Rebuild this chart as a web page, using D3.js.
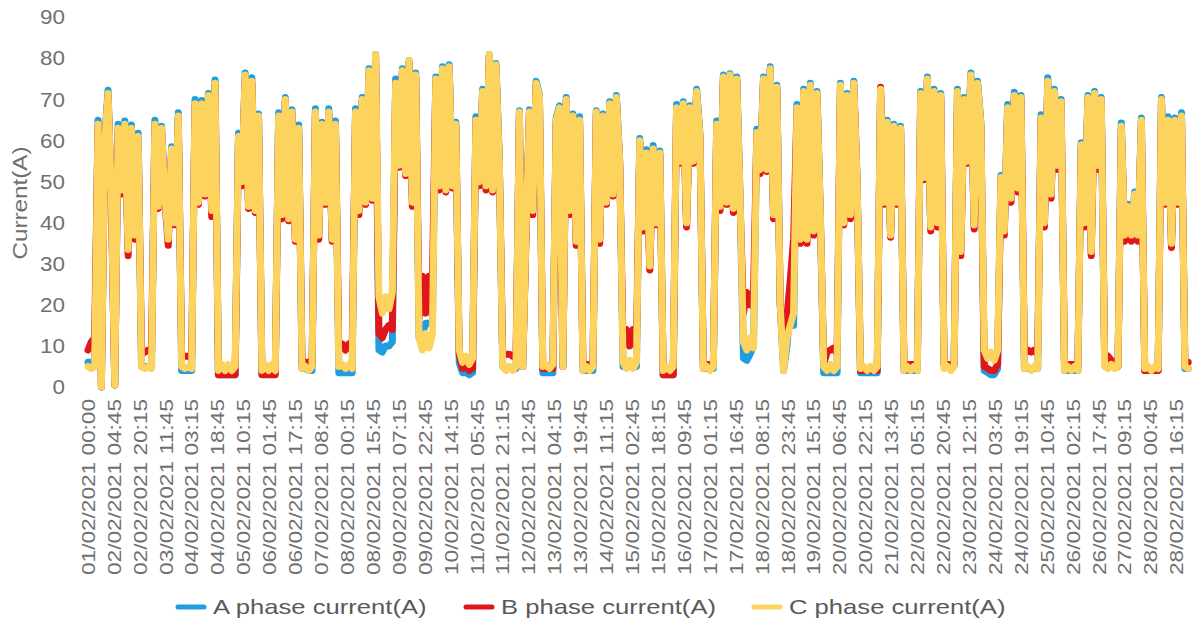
<!DOCTYPE html>
<html>
<head>
<meta charset="utf-8">
<script src="https://cdn.jsdelivr.net/npm/d3@7"></script>
<style>
  body { margin: 0; background: #fff; }
  svg { display: block; font-family: "Liberation Sans", Arial, sans-serif; }
</style>
</head>
<body>
<svg width="1203" height="625"></svg>
<script>
// 15-minute samples, one reading kept every 8 samples
var step = 8;
var labelEvery = 62;

var tickLabels = [
  "01/02/2021 00:00", "02/02/2021 04:45", "02/02/2021 20:15", "03/02/2021 11:45", "04/02/2021 03:15",
  "04/02/2021 18:45", "05/02/2021 10:15", "06/02/2021 01:45", "06/02/2021 17:15", "07/02/2021 08:45",
  "08/02/2021 00:15", "08/02/2021 15:45", "09/02/2021 07:15", "09/02/2021 22:45", "10/02/2021 14:15",
  "11/02/2021 05:45", "11/02/2021 21:15", "12/02/2021 12:45", "13/02/2021 04:15", "13/02/2021 19:45",
  "14/02/2021 11:15", "15/02/2021 02:45", "15/02/2021 18:15", "16/02/2021 09:45", "17/02/2021 01:15",
  "17/02/2021 16:45", "18/02/2021 08:15", "18/02/2021 23:45", "19/02/2021 15:15", "20/02/2021 06:45",
  "20/02/2021 22:15", "21/02/2021 13:45", "22/02/2021 05:15", "22/02/2021 20:45", "23/02/2021 12:15",
  "24/02/2021 03:45", "24/02/2021 19:15", "25/02/2021 10:45", "26/02/2021 02:15", "26/02/2021 17:45",
  "27/02/2021 09:15", "28/02/2021 00:45", "28/02/2021 16:15"
];

var yTicks = [0, 10, 20, 30, 40, 50, 60, 70, 80, 90];

var seriesNames = ["A phase current(A)", "B phase current(A)", "C phase current(A)"];
var seriesColors = ["#1f9de0", "#e0161c", "#fcd35c"];

var phaseA = [
  6, 6, 6.5, 65, 0, 60.5, 72.3, 46, 0.5, 64,
  48.5, 64.8, 34, 63.8, 37.5, 61.8, 5, 5, 5, 5,
  65, 44, 63.5, 46, 36, 58.5, 40, 66.8, 4, 4,
  4, 4, 70, 45, 69.8, 47, 71.5, 43, 74.8, 3,
  3, 3, 3, 3, 3, 61.8, 50, 76.5, 44, 75.3,
  43, 66.5, 3.5, 3.5, 3.5, 3.5, 3.5, 66.8, 42, 70.5,
  41, 67.5, 36, 63.8, 4.5, 4.5, 4, 4, 67.8, 37,
  64.5, 45, 67.8, 36, 64.8, 3.5, 3.5, 3.5, 3.5, 3.5,
  67.8, 43, 70.5, 45, 77.5, 46, 81, 9, 8.5, 10,
  10, 11, 75, 54, 77.5, 52, 79.5, 45, 76.5, 12,
  13, 15.5, 15.5, 15.5, 75.5, 49, 78, 48, 78.5, 49,
  64.5, 6, 3.5, 3.5, 3, 3.5, 65.8, 50, 72.5, 49,
  81, 48, 78.8, 55, 5, 4.5, 4.5, 4.5, 4.5, 67.3,
  5, 38, 67.5, 43, 74.5, 71.3, 3.5, 3.5, 3.5, 3.5,
  65.5, 68.5, 5, 70.5, 43, 66.5, 35.5, 65.8, 4, 4,
  4, 4, 67.3, 36, 66.5, 45, 69.5, 47, 71, 55,
  5, 5, 5, 5, 5, 60.5, 39, 57.8, 29.5, 58.8,
  40, 57.5, 3, 3, 3, 3, 68.8, 55, 69.5, 40,
  68.5, 55, 72.5, 61.5, 4.5, 4.5, 4.5, 4.5, 64.8, 44,
  76, 45, 76.3, 43.5, 75.5, 46, 7, 6.5, 8, 10,
  62.8, 53, 75.5, 53, 78, 42, 73.5, 20, 4, 10,
  20, 15, 68.8, 36, 72.5, 36, 74, 38, 72, 42,
  3.5, 3.5, 3.5, 3.5, 3.5, 74, 40, 71.5, 42, 74.5,
  50, 3.5, 3.5, 3.5, 3.5, 3.5, 3.5, 72, 45, 65,
  37, 64, 45, 63.5, 4, 4, 4, 4, 4, 72,
  51, 75.5, 39, 72.5, 40, 71.5, 5.5, 5.5, 5.5, 5.5,
  72.5, 33, 70.5, 55, 76.5, 39.5, 74.5, 64.5, 4, 3.5,
  3, 3, 4.5, 51.5, 38, 68.8, 46, 71.8, 48.5, 71,
  4.5, 4.5, 4.5, 4.5, 4.5, 66.3, 40, 75.3, 47, 72.5,
  54, 70, 4, 4, 4, 4, 4, 59.5, 40, 71,
  33, 72, 54, 70.5, 7.5, 7, 6, 5.5, 5, 64.3,
  37, 44.5, 37, 47.5, 37, 65.5, 4, 4, 4, 4,
  4, 70.5, 45, 65.8, 35, 65.5, 45, 66.8, 4.5, 4.5
];

var phaseB = [
  9, 11, 12, 63.5, 0, 60, 71, 45, 0.5, 62.5,
  47, 63.5, 32, 62.5, 36, 60.5, 8, 8.5, 9, 8.5,
  63.5, 43.5, 62.5, 45.5, 34.5, 57.5, 39.5, 65.5, 7.5, 7.5,
  7.5, 7, 68.5, 44.5, 68.5, 46.5, 70.5, 41.5, 73.5, 3,
  3, 3, 3, 3, 3, 60.5, 49, 75.5, 43.5, 74,
  42.5, 65.5, 3, 3, 3, 3, 3, 65.5, 41, 69.5,
  40.5, 66.5, 35.5, 62.5, 6, 6, 6, 5.5, 66.5, 36,
  63.5, 44.5, 66.5, 35.5, 63.5, 9, 10.5, 9, 10.5, 9.5,
  66.5, 42, 69.5, 44.5, 76.5, 45.5, 80.5, 13, 12, 14,
  15, 14, 73.5, 53.5, 76.5, 51.5, 79, 44, 75.5, 17,
  27, 18, 27, 26, 74.5, 48, 77, 47.5, 77.5, 48.5,
  63.5, 8, 4.5, 5, 4, 4.5, 64.5, 49, 71.5, 48,
  80.5, 47.5, 78, 54.5, 7.5, 8, 8, 7.5, 7.5, 66.5,
  5, 37, 66.5, 42, 73.5, 70.5, 4.5, 4.5, 4.5, 4.5,
  64.5, 67.5, 5, 69.5, 42, 65.5, 34.5, 64.5, 5.5, 5.5,
  5.5, 5.5, 66.5, 35, 65.5, 44.5, 68.5, 46.5, 70, 54.5,
  10, 14, 10, 14, 10, 59.5, 38, 56.5, 28.5, 57.5,
  39.5, 56.5, 3, 3, 3, 3, 67.5, 54.5, 68.5, 39,
  67.5, 54.5, 71.5, 60.5, 5.5, 5.5, 5.5, 5.5, 63.5, 43,
  75, 44.5, 75.5, 42.5, 74.5, 44.5, 18, 23, 20, 22,
  61.5, 52, 74.5, 52.5, 77, 41, 72.5, 20, 7, 17,
  26, 36, 67.5, 35, 71.5, 35, 73, 37, 71, 41,
  5.5, 8.5, 9, 9.5, 8, 73, 39.5, 70.5, 41, 73.5,
  49.5, 4, 4, 4, 4, 4, 4, 73, 44.5, 64,
  36.5, 63, 44.5, 62.5, 5.5, 5.5, 5.5, 5.5, 5.5, 71,
  50.5, 74.5, 38, 71.5, 39, 70.5, 5.5, 5.5, 5.5, 5.5,
  71.5, 32, 69.5, 54.5, 75.5, 38.5, 73.5, 63.5, 5, 4.5,
  4, 4, 5.5, 50.5, 37, 67.5, 45, 70.5, 47.5, 70,
  8, 9, 8.5, 9, 8, 65, 39, 74, 46, 71.5,
  53, 69, 5.5, 5.5, 5.5, 5.5, 5, 58.5, 39, 70,
  32, 71, 53, 69.5, 7, 7.5, 6.5, 6, 5, 63,
  35.5, 43.5, 35.5, 46.5, 35.5, 64.5, 4, 4, 4, 4,
  4, 69.5, 44.5, 64.5, 34, 64.5, 44.5, 65.5, 6, 6
];

var phaseC = [
  5, 4.5, 5, 64, 0, 60, 71.5, 46, 0.5, 63,
  48, 64, 33.5, 63, 37, 61, 5, 4.5, 5, 4.5,
  64, 44, 63, 46, 36, 58, 40, 66, 5, 4.5,
  5, 4.5, 69, 45, 69, 47, 71, 43, 74, 4,
  5.5, 4, 5.5, 4, 5, 61, 50, 76, 44, 74.5,
  43, 66, 4, 5.5, 4, 5.5, 4, 66, 42, 70,
  41, 67, 36, 63, 4.5, 5, 4, 5, 67, 37,
  64, 45, 67, 36, 64, 5, 5.5, 4.5, 5.5, 4.5,
  67, 43, 70, 45, 77, 46, 81, 22, 18, 22,
  19, 23, 74, 54, 77, 52, 79.5, 45, 76, 12,
  9, 13, 9.5, 13, 75, 49, 77.5, 48, 78, 49,
  64, 9, 6, 7.5, 5.5, 7, 65, 50, 72, 49,
  81, 48, 78.5, 55, 5, 4, 5, 4, 5, 67,
  5, 38, 67, 43, 74, 71, 5, 5.5, 4.5, 5.5,
  65, 68, 5, 70, 43, 66, 35.5, 65, 4, 5,
  4, 5, 67, 36, 66, 45, 69, 47, 70.5, 55,
  6, 4.5, 6.5, 4.5, 6, 60, 39, 57, 29.5, 58,
  40, 57, 4, 5, 4, 5, 68, 55, 69, 40,
  68, 55, 72, 61, 4.5, 5, 4, 5, 64, 44,
  75.5, 45, 76, 43.5, 75, 46, 11, 9, 12, 9.5,
  62, 53, 75, 53, 77.5, 42, 73, 20, 4, 12,
  15, 18, 68, 36, 72, 36, 73.5, 38, 71.5, 42,
  5, 4, 5.5, 4, 5, 73.5, 40, 71, 42, 74,
  50, 4.5, 5, 4, 5, 4, 5, 72.5, 45, 64.5,
  37, 63.5, 45, 63, 4, 5, 4, 5, 4, 71.5,
  51, 75, 39, 72, 40, 71, 4.5, 5, 4, 5,
  72, 33, 70, 55, 76, 39.5, 74, 64, 9, 7,
  8.5, 6.5, 9, 51, 38, 68, 46, 71, 48.5, 70.5,
  4.5, 5, 4, 5, 4.5, 65.5, 40, 74.5, 47, 72,
  54, 69.5, 4, 5, 4, 5, 4, 59, 40, 70.5,
  33, 71.5, 54, 70, 5, 4.5, 5.5, 4.5, 5, 63.5,
  37, 44, 37, 47, 37, 65, 4.5, 5, 4, 5,
  4.5, 70, 45, 65, 35, 65, 45, 66, 5, 4.5
];

var svg = d3.select("svg");
var textColor = "#707070";

var x = d3.scaleLinear()
  .domain([0, labelEvery * (tickLabels.length - 1)])
  .range([88, 1176.5]);

var y = d3.scaleLinear()
  .domain([0, 90])
  .range([387, 17.5]);

var line = d3.line()
  .x(function(d, i) { return x(i * step); })
  .y(function(d) { return y(d); });

// A under B under C, as in the picture
svg.selectAll(".phase")
  .data([phaseA, phaseB, phaseC])
  .enter()
  .append("path")
  .attr("class", "phase")
  .attr("d", line)
  .attr("fill", "none")
  .attr("stroke", function(d, i) { return seriesColors[i]; })
  .attr("stroke-width", 7)
  .attr("stroke-linejoin", "round")
  .attr("stroke-linecap", "round");

// y axis
var yAxis = svg.append("g")
  .attr("transform", "translate(71,0)")
  .call(d3.axisLeft(y).tickValues(yTicks).tickSize(0).tickPadding(6));
yAxis.select(".domain").remove();
yAxis.selectAll("text")
  .attr("fill", textColor)
  .style("font-size", "20px")
  .style("font-family", "Liberation Sans, Arial, sans-serif")
  .each(function() {
    var w = this.getComputedTextLength();
    d3.select(this).attr("textLength", w * 1.12).attr("lengthAdjust", "spacingAndGlyphs");
  });

svg.append("text")
  .attr("transform", "translate(27,203) rotate(-90)")
  .attr("text-anchor", "middle")
  .attr("fill", textColor)
  .style("font-size", "21px")
  .attr("textLength", 113)
  .attr("lengthAdjust", "spacingAndGlyphs")
  .text("Current(A)");

// x axis, one label every 62 samples
var xAxis = svg.append("g")
  .attr("transform", "translate(0,387)")
  .call(d3.axisBottom(x)
    .tickValues(d3.range(tickLabels.length).map(function(k) { return k * labelEvery; }))
    .tickFormat(function(d, k) { return tickLabels[k]; })
    .tickSize(0));
xAxis.select(".domain").remove();
xAxis.selectAll("text")
  .attr("transform", "rotate(-90)")
  .attr("x", -12)
  .attr("y", 0)
  .attr("dy", "0.35em")
  .attr("fill", textColor)
  .style("text-anchor", "end")
  .style("font-size", "18px")
  .style("font-family", "Liberation Sans, Arial, sans-serif")
  .attr("textLength", 176)
  .attr("lengthAdjust", "spacingAndGlyphs");

// legend
var legend = svg.selectAll(".legend")
  .data(seriesNames)
  .enter()
  .append("g")
  .attr("class", "legend")
  .attr("transform", function(d, i) { return "translate(" + (176 + i * 288) + ",607)"; });

legend.append("line")
  .attr("x1", 2).attr("x2", 28)
  .attr("y1", 0).attr("y2", 0)
  .attr("stroke", function(d, i) { return seriesColors[i]; })
  .attr("stroke-width", 5)
  .attr("stroke-linecap", "round");

legend.append("text")
  .attr("x", 37)
  .attr("dy", "0.35em")
  .attr("fill", "#5a5a5a")
  .style("font-size", "21px")
  .text(function(d) { return d; })
  .each(function() {
    var w = this.getComputedTextLength();
    d3.select(this).attr("textLength", w * 1.22).attr("lengthAdjust", "spacingAndGlyphs");
  });
</script>
</body>
</html>
